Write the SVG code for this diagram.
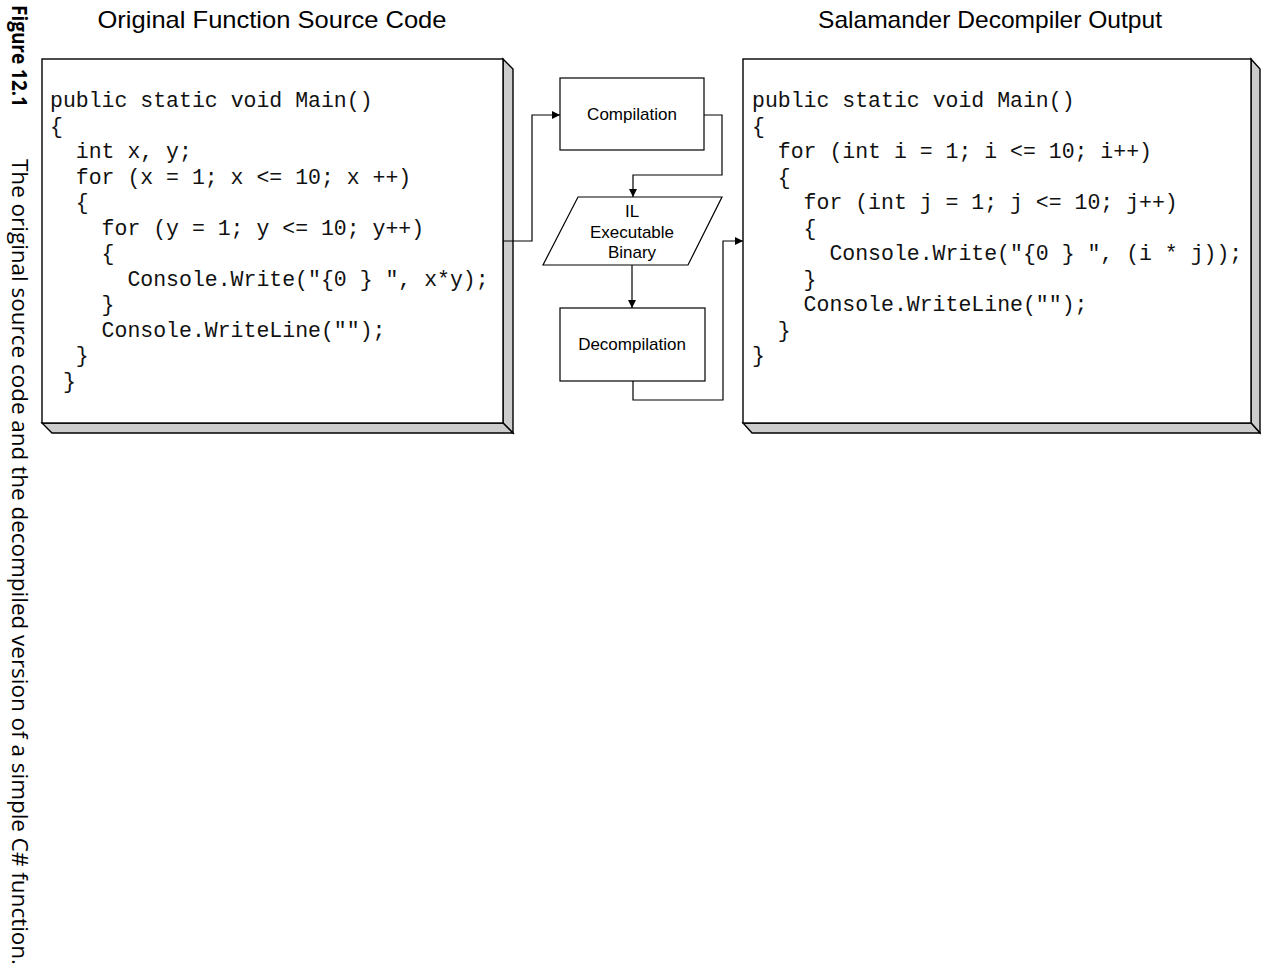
<svg xmlns="http://www.w3.org/2000/svg" width="1261" height="970" viewBox="0 0 1261 970">
<style>
.title{font-family:"Liberation Sans",Arial,sans-serif;font-size:24px;fill:#000;text-anchor:middle}
.lbl{font-family:"Liberation Sans",Arial,sans-serif;font-size:17px;fill:#000;text-anchor:middle}
.code{font-family:"Liberation Mono","Courier New",monospace;font-size:21.5px;fill:#111}
.face{fill:#fff;stroke:#000;stroke-width:1.4}
.shade{fill:#cccccc;stroke:#000;stroke-width:1.4;stroke-linejoin:miter}
.shape{fill:#fff;stroke:#000;stroke-width:1.2}
.conn{fill:none;stroke:#000;stroke-width:1.2}
.cap{font-family:"Open Sans","Noto Sans",sans-serif;font-size:22px;fill:#000}
.capb{font-family:"Open Sans","Noto Sans",sans-serif;font-size:22px;font-weight:bold;fill:#000}
</style>
<defs>
<marker id="arr" markerUnits="userSpaceOnUse" markerWidth="9" markerHeight="9" refX="8" refY="4" orient="auto">
<path d="M0,0 L8,4 L0,8 z" fill="#000"/>
</marker>
</defs>
<rect width="1261" height="970" fill="#fff"/>

<g id="caption">
<text class="capb" transform="translate(12,5) rotate(90)" textLength="102" lengthAdjust="spacingAndGlyphs">Figure 12.1</text>
<text class="cap" transform="translate(12,159) rotate(90)" textLength="806" lengthAdjust="spacingAndGlyphs">The original source code and the decompiled version of a simple C# function.</text>
</g>

<g id="titles">
<text class="title" x="272" y="28" textLength="349" lengthAdjust="spacingAndGlyphs">Original Function Source Code</text>
<text class="title" x="990" y="28" textLength="344" lengthAdjust="spacingAndGlyphs">Salamander Decompiler Output</text>
</g>

<g id="source-box">
<polygon class="shade" points="503,59 513,69 513,433 503,423"/>
<polygon class="shade" points="42,423 503,423 513,433 52,433"/>
<rect class="face" x="42" y="59" width="461" height="364"/>
<text class="code" x="50" y="107">public static void Main()</text>
<text class="code" x="50" y="132.5">{</text>
<text class="code" x="75.8" y="158">int x, y;</text>
<text class="code" x="75.8" y="183.5">for (x = 1; x &lt;= 10; x ++)</text>
<text class="code" x="75.8" y="209">{</text>
<text class="code" x="101.6" y="234.5">for (y = 1; y &lt;= 10; y++)</text>
<text class="code" x="101.6" y="260">{</text>
<text class="code" x="127.4" y="285.5">Console.Write("{0 } ", x*y);</text>
<text class="code" x="101.6" y="311">}</text>
<text class="code" x="101.6" y="336.5">Console.WriteLine("");</text>
<text class="code" x="75.8" y="362">}</text>
<text class="code" x="62.9" y="387.5">}</text>
</g>

<g id="output-box">
<polygon class="shade" points="1251,59 1260,69 1260,433 1251,423"/>
<polygon class="shade" points="743,423 1251,423 1260,433 752,433"/>
<rect class="face" x="743" y="59" width="508" height="364"/>
<text class="code" x="752" y="107">public static void Main()</text>
<text class="code" x="752" y="132.5">{</text>
<text class="code" x="777.8" y="158">for (int i = 1; i &lt;= 10; i++)</text>
<text class="code" x="777.8" y="183.5">{</text>
<text class="code" x="803.6" y="209">for (int j = 1; j &lt;= 10; j++)</text>
<text class="code" x="803.6" y="234.5">{</text>
<text class="code" x="829.4" y="260">Console.Write("{0 } ", (i * j));</text>
<text class="code" x="803.6" y="285.5">}</text>
<text class="code" x="803.6" y="311">Console.WriteLine("");</text>
<text class="code" x="777.8" y="336.5">}</text>
<text class="code" x="752" y="362">}</text>
</g>

<g id="compilation">
<rect class="shape" x="560" y="78" width="144" height="72"/>
<text class="lbl" x="632" y="120">Compilation</text>
</g>

<g id="il-binary">
<polygon class="shape" points="578,197 722,197 688,265 543,265"/>
<text class="lbl" x="632" y="217">IL</text>
<text class="lbl" x="632" y="238">Executable</text>
<text class="lbl" x="632" y="258">Binary</text>
</g>

<g id="decompilation">
<rect class="shape" x="560" y="308" width="145" height="73"/>
<text class="lbl" x="632" y="350">Decompilation</text>
</g>

<g id="connectors">
<path class="conn" d="M503,241 H532 V115 H560" marker-end="url(#arr)"/>
<path class="conn" d="M704,115 H722 V175 H633 V197" marker-end="url(#arr)"/>
<path class="conn" d="M632,265 V308" marker-end="url(#arr)"/>
<path class="conn" d="M633,381 V400 H723 V241 H743" marker-end="url(#arr)"/>
</g>
</svg>
